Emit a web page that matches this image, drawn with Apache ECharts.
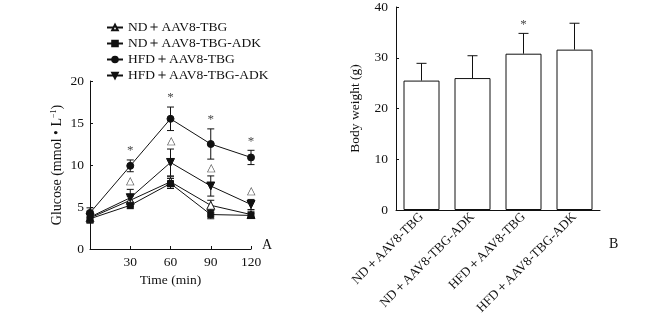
<!DOCTYPE html>
<html>
<head>
<meta charset="utf-8">
<script src="https://cdn.jsdelivr.net/npm/echarts@6/dist/echarts.min.js"></script>
<style>
  html, body { margin: 0; padding: 0; background: #fff; }
  #chart { width: 656px; height: 320px; }
</style>
</head>
<body>
<div id="chart"></div>
<script>
// panel A: glucose tolerance
const times = [0, 30, 60, 90, 120];
const groupNames = ['ND＋AAV8-TBG', 'ND＋AAV8-TBG-ADK', 'HFD＋AAV8-TBG', 'HFD＋AAV8-TBG-ADK'];
const ndTbg = [3.7, 5.8, 8.0, 5.2, 4.1];
const ndTbgErr = [0.5, 0.5, 0.6, 0.6, 0.4];
const ndAdk = [3.6, 5.2, 7.8, 4.1, 4.0];
const ndAdkErr = [0.5, 0.4, 0.6, 0.5, 0.3];
const hfdTbg = [4.3, 9.9, 15.5, 12.5, 10.9];
const hfdTbgErr = [0.6, 0.7, 1.4, 1.8, 0.85];
const hfdAdk = [3.8, 6.1, 10.3, 7.5, 5.3];
const hfdAdkErr = [0.7, 1.0, 1.6, 1.2, 0.6];
const hfdStars = ['', '*', '*', '*', '*'];
const adkTriangles = ['', '△', '△', '△', '△'];

// panel B: body weight
const bodyWeight = [25.5, 26.0, 30.8, 31.6];
const bodyWeightErr = [3.4, 4.4, 4.0, 5.2];
const weightStars = ['', '', '*', ''];

const serif = 'Liberation Serif';
const ink = '#111';

const chart = echarts.init(document.getElementById('chart'));

function pairs(vals) {
    return times.map((t, i) => [t, vals[i]]);
}
function errRows(xs, vals, errs, upOnly) {
    return xs.map((x, i) => [x, upOnly ? vals[i] : vals[i] - errs[i], vals[i] + errs[i]]);
}
function errRender(cap) {
    return function (params, api) {
        const lo = api.coord([api.value(0), api.value(1)]);
        const hi = api.coord([api.value(0), api.value(2)]);
        const kids = [
            { type: 'line', shape: { x1: lo[0], y1: lo[1], x2: hi[0], y2: hi[1] } },
            { type: 'line', shape: { x1: hi[0] - cap, y1: hi[1], x2: hi[0] + cap, y2: hi[1] } }
        ];
        if (api.value(1) !== api.value(3)) {
            kids.push({ type: 'line', shape: { x1: lo[0] - cap, y1: lo[1], x2: lo[0] + cap, y2: lo[1] } });
        }
        kids.forEach(k => k.style = { stroke: ink, lineWidth: 1 });
        return { type: 'group', children: kids };
    };
}
function glucoseErr(vals, errs) {
    return {
        type: 'custom', xAxisIndex: 0, yAxisIndex: 0, z: 1, silent: true,
        renderItem: errRender(3.5),
        data: errRows(times, vals, errs, false).map(r => r.concat([null]))
    };
}
function lineSeries(name, vals, symbol, size, fill, rotate) {
    return {
        name: name, type: 'line', xAxisIndex: 0, yAxisIndex: 0, z: 3,
        data: pairs(vals),
        symbol: symbol, symbolSize: size, symbolRotate: rotate || 0, showSymbol: true,
        itemStyle: { color: fill, borderColor: ink, borderWidth: 1 },
        lineStyle: { color: ink, width: 1 }
    };
}
function labelSeries(xs, tops, marks, axis, size, dist) {
    return {
        type: 'scatter', xAxisIndex: axis, yAxisIndex: axis, symbolSize: 1, z: 4, silent: true,
        itemStyle: { color: 'rgba(0,0,0,0)' },
        label: {
            show: true, position: 'top', distance: dist,
            formatter: p => marks[p.dataIndex],
            fontFamily: serif, fontSize: size, color: ink
        },
        data: xs.map((x, i) => [x, tops[i]])
    };
}

const hfdTops = hfdTbg.map((v, i) => v + hfdTbgErr[i]);
const adkTops = hfdAdk.map((v, i) => v + hfdAdkErr[i]);
const weightTops = bodyWeight.map((v, i) => v + bodyWeightErr[i]);
const barIdx = groupNames.map((n, i) => i);

chart.setOption({
    animation: false,
    textStyle: { fontFamily: serif, color: ink },
    legend: {
        orient: 'vertical', left: 101, top: 15, itemGap: 1,
        itemWidth: 16, itemHeight: 7,
        data: groupNames,
        textStyle: { fontFamily: serif, fontSize: 13.5, color: ink, lineHeight: 15 }
    },
    grid: [
        { left: 90, top: 81, width: 161, height: 168 },
        { left: 396, top: 7, width: 204, height: 203 }
    ],
    xAxis: [
        {
            gridIndex: 0, type: 'value', min: 0, max: 120, interval: 30,
            name: 'Time (min)', nameLocation: 'middle', nameGap: 24,
            nameTextStyle: { fontFamily: serif, fontSize: 13.5, color: ink },
            axisLine: { lineStyle: { color: ink } },
            axisTick: { inside: true, length: 3, lineStyle: { color: ink } },
            axisLabel: { fontFamily: serif, fontSize: 13.5, color: ink, margin: 6,
                formatter: v => v === 0 ? '' : String(v) },
            splitLine: { show: false }
        },
        {
            gridIndex: 1, type: 'category', data: groupNames, boundaryGap: true,
            axisLine: { lineStyle: { color: ink } },
            axisTick: { show: false },
            axisLabel: { fontFamily: serif, fontSize: 13, color: ink, rotate: 45, margin: 5, interval: 0 }
        }
    ],
    yAxis: [
        {
            gridIndex: 0, type: 'value', min: 0, max: 20, interval: 5,
            name: 'Glucose (mmol • L{sup|−1})', nameLocation: 'middle', nameGap: 26,
            nameTextStyle: { fontFamily: serif, fontSize: 14, color: ink,
                rich: { sup: { fontFamily: serif, fontSize: 8, color: ink, verticalAlign: 'top', padding: [0, 0, 6, 0] } } },
            axisLine: { show: true, lineStyle: { color: ink } },
            axisTick: { show: true, inside: true, length: 3, lineStyle: { color: ink } },
            axisLabel: { fontFamily: serif, fontSize: 13.5, color: ink, margin: 6 },
            splitLine: { show: false }
        },
        {
            gridIndex: 1, type: 'value', min: 0, max: 40, interval: 10,
            name: 'Body weight (g)', nameLocation: 'middle', nameGap: 34,
            nameTextStyle: { fontFamily: serif, fontSize: 13.5, color: ink },
            axisLine: { show: true, lineStyle: { color: ink } },
            axisTick: { show: true, inside: true, length: 3, lineStyle: { color: ink } },
            axisLabel: { fontFamily: serif, fontSize: 13.5, color: ink, margin: 8 },
            splitLine: { show: false }
        }
    ],
    series: [
        glucoseErr(ndTbg, ndTbgErr),
        glucoseErr(ndAdk, ndAdkErr),
        glucoseErr(hfdTbg, hfdTbgErr),
        glucoseErr(hfdAdk, hfdAdkErr),
        lineSeries(groupNames[0], ndTbg, 'triangle', 8, '#fff'),
        lineSeries(groupNames[1], ndAdk, 'rect', 6, ink),
        lineSeries(groupNames[2], hfdTbg, 'circle', 7, ink),
        lineSeries(groupNames[3], hfdAdk, 'triangle', 8, ink, 180),
        labelSeries(times, hfdTops, hfdStars, 0, 13, 2),
        labelSeries(times, adkTops, adkTriangles, 0, 11, 2),
        {
            type: 'bar', xAxisIndex: 1, yAxisIndex: 1, barWidth: 36, z: 2,
            data: bodyWeight,
            itemStyle: { color: '#fff', borderColor: ink, borderWidth: 1 }
        },
        {
            type: 'custom', xAxisIndex: 1, yAxisIndex: 1, z: 1, silent: true,
            renderItem: errRender(5),
            data: errRows(barIdx, bodyWeight, bodyWeightErr, true).map(r => r.concat([r[1]]))
        },
        labelSeries(barIdx, weightTops, weightStars, 1, 13, 2)
    ],
    graphic: [
        { type: 'text', left: 262, top: 238, style: { text: 'A', font: '14px "Liberation Serif"', fill: ink } },
        { type: 'text', left: 609, top: 237, style: { text: 'B', font: '14px "Liberation Serif"', fill: ink } }
    ]
});
</script>
</body>
</html>
